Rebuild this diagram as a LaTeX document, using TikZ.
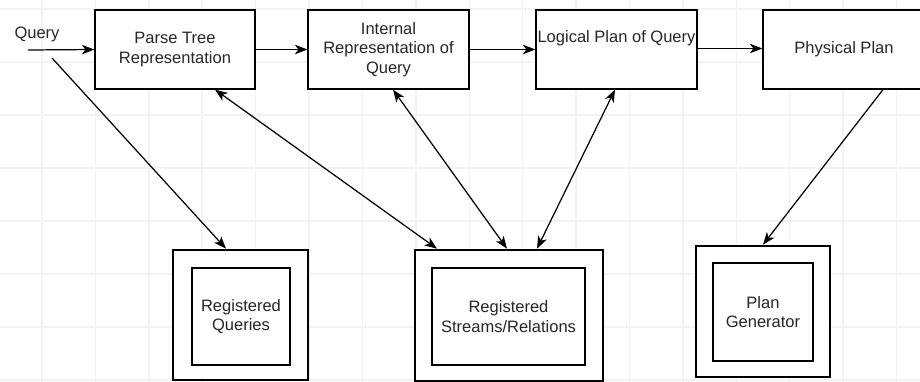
\documentclass[tikz,border=0pt]{standalone}
\usepackage{fontspec}
\setmainfont{Liberation Sans}
\usetikzlibrary{arrows.meta,positioning}

\begin{document}
\begin{tikzpicture}[
  x=0.02cm, y=-0.02cm,
  font=\fontsize{9.4}{11}\selectfont,
  text=black!85,
  stage/.style={draw, fill=white, line width=0.7pt, minimum height=1.58cm, align=center, inner sep=0pt},
  outerbox/.style={draw, fill=white, line width=1.5pt, inner sep=0pt},
  innerbox/.style={draw, line width=1.5pt, align=center, inner sep=0pt},
  flow/.style={-{Stealth[length=0.25cm,width=0.19cm,inset=0.07cm]}, line width=0.7pt},
  both/.style={{Stealth[length=0.25cm,width=0.19cm,inset=0.07cm]}-{Stealth[length=0.25cm,width=0.19cm,inset=0.07cm]}, line width=0.7pt},
  gridline/.style={black!5, line width=0.8pt},
]
\useasboundingbox[fill=white] (0,0) rectangle (920,382);
% background grid
\foreach \gx in {0,...,16}
  \draw[gridline] ({42+53.4*\gx},0) -- ({42+53.4*\gx},382);
\foreach \gy in {0,...,7}
  \draw[gridline] (0,{9+53*\gy}) -- (920,{9+53*\gy});

% top row
\node[stage, minimum width=3.2cm] (ptree) at (175,49.5) {Parse Tree\\Representation};
\node[stage, minimum width=3.22cm] (intrep) at (388.5,49.5) {Internal\\Representation of\\Query};
\node[stage, minimum width=3.22cm] (logplan) at (616.5,49.5) {};
\node (logtxt) at (616.5,38) {Logical Plan of Query};
\node[stage, minimum width=3.24cm] (physplan) at (844,49.5) {Physical Plan};

% bottom row
\node[outerbox, minimum width=2.7cm, minimum height=2.6cm] (regqo) at (240.5,315) {};
\node[innerbox, minimum width=1.96cm, minimum height=1.94cm] (regq) at (241,316.5) {Registered\\Queries};
\node[outerbox, minimum width=3.76cm, minimum height=2.62cm] (regso) at (509,315.5) {};
\node[innerbox, minimum width=3.06cm, minimum height=1.94cm] (regs) at (508.5,316.5) {Registered\\Streams/Relations};
\node[outerbox, minimum width=2.68cm, minimum height=2.62cm] (plango) at (763,311.5) {};
\node[innerbox, minimum width=2cm, minimum height=1.96cm] (plang) at (763,312) {Plan\\Generator};

% query input
\node (qlabel) at (37,34) {Query};
\coordinate (qin) at (28,50);
\coordinate (qout) at (52,58);

\draw[flow] (qin) -- (ptree.west);
\draw[flow] (ptree.east) -- (intrep.west);
\draw[flow] (intrep.east) -- (logplan.west);
\draw[flow] ([yshift=0.02cm]logplan.east) -- ([yshift=0.02cm]physplan.west);
\draw[flow] (qout) -- ([xshift=-0.29cm]regqo.north);
\draw[both] ([xshift=0.8cm]ptree.south) -- ([xshift=-1.44cm]regso.north);
\draw[both] ([xshift=0.09cm]intrep.south) -- ([xshift=-0.04cm]regso.north);
\draw[both] ([xshift=-0.03cm]logplan.south) -- ([xshift=0.56cm]regso.north);
\draw[flow] ([xshift=0.78cm]physplan.south) -- (plango.north);
\end{tikzpicture}
\end{document}
